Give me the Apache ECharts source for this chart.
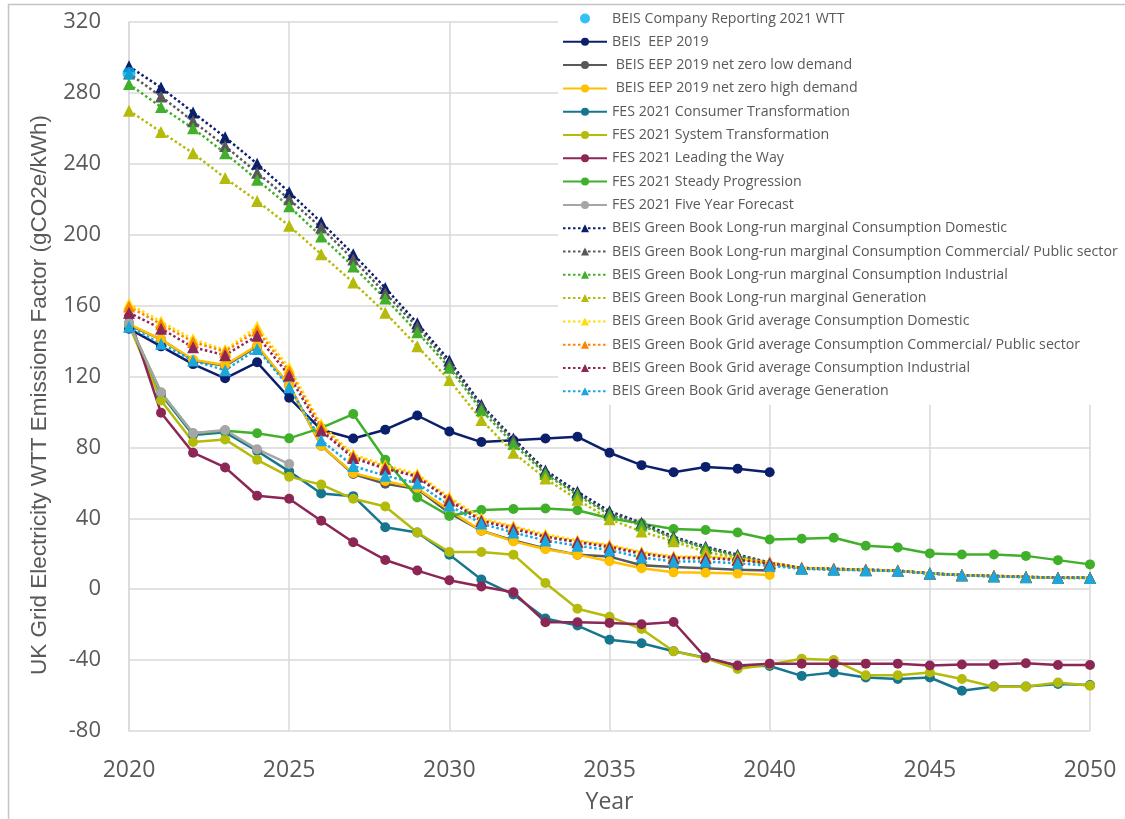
<!DOCTYPE html>
<html>
<head>
<meta charset="utf-8">
<script src="https://cdn.jsdelivr.net/npm/echarts@6/dist/echarts.min.js"></script>
<style>
  html, body { margin: 0; padding: 0; background: #fff; }
  #chart { width: 1125px; height: 819px; }
</style>
</head>
<body>
<div id="chart"></div>
<script>
// Years on the horizontal axis
const years = [2020, 2021, 2022, 2023, 2024, 2025, 2026, 2027, 2028, 2029, 2030,
               2031, 2032, 2033, 2034, 2035, 2036, 2037, 2038, 2039, 2040,
               2041, 2042, 2043, 2044, 2045, 2046, 2047, 2048, 2049, 2050];

// gCO2e/kWh by year, starting at 2020
const companyReporting2021 = [291];
const eep2019 = [147, 137, 127, 119, 128, 108, 90, 85, 90, 98, 89, 83, 84, 85, 86, 77, 70, 66, 69, 68, 66];
const eepNetZeroLow = [149, 141, 129, 126, 137, 115, 81, 65, 59.5, 56.5, 43, 33, 27.5, 23, 19.5, 18.4, 13.5, 12.5, 11.8, 11, 10.5];
const eepNetZeroHigh = [149.5, 141, 129.5, 126.5, 137.5, 115, 81, 65.5, 61, 57, 44.5, 33, 27, 22.5, 19.5, 15.8, 11.8, 9.5, 9.3, 8.8, 8];
const fesConsumer = [150, 110, 87, 88.5, 78, 66.5, 54, 52.5, 35, 32, 19.5, 5.5, -3, -16.5, -20.5, -28.5, -30.5, -35, -38.6, -43.3, -43.3,
                     -48.9, -47, -49.8, -50.7, -49.8, -57.3, -54.9, -54.9, -53.5, -54.1];
const fesSystem = [149, 106.5, 83, 84.5, 73, 63.5, 59, 51, 46.7, 32, 21, 21, 19.5, 3.5, -11, -15.5, -22.5, -35, -39, -45, -42.5,
                   -39.2, -40, -48.5, -48.5, -47, -50.7, -55, -55, -52.6, -54.5];
const fesLeading = [154, 99.5, 77, 68.7, 52.7, 51, 38.6, 26.5, 16.5, 10.5, 5, 1.5, -1.7, -18.6, -18.6, -19, -19.8, -18.5, -38.6, -43, -42,
                    -42, -42, -42, -42, -43, -42.5, -42.5, -41.8, -42.8, -42.8];
const fesSteady = [150, 111, 88, 89.4, 88, 85.1, 91, 98.8, 73, 51.8, 41.3, 44.7, 45.2, 45.5, 44.5, 40, 37, 34, 33.4, 32, 28,
                   28.5, 29, 24.5, 23.5, 20.2, 19.6, 19.6, 18.8, 16.4, 14];
const fesFiveYear = [150, 111, 88, 89.8, 79, 70.6];
const lrmDomestic = [295, 283, 269, 255, 240, 224, 207, 189, 170, 150, 129, 104, 85, 67, 55, 44, 37.5, 29.5, 24, 19.5, 15,
                     12, 11.5, 11, 10.5, 9, 8, 7.5, 7, 6.5, 6.5];
const lrmCommercial = [291, 278, 264, 250, 235, 220, 204, 186, 167, 148, 127, 103, 84, 66, 54, 43, 37, 29, 23.5, 19, 15,
                       12, 11.5, 11, 10.5, 9, 8, 7.5, 7, 6.5, 6.5];
const lrmIndustrial = [285, 272, 260, 246, 231, 216, 199, 182, 164, 145, 125, 101, 82, 65, 53, 42, 36, 28.5, 23, 18.5, 14.5,
                       11.8, 11.3, 10.9, 10.4, 8.9, 7.9, 7.4, 6.9, 6.4, 6.4];
const lrmGeneration = [270, 258, 246, 232, 219, 205, 189, 173, 156, 137, 118, 95.5, 77, 62.5, 50.5, 39.5, 32.5, 27, 21, 17.5, 14,
                       11.6, 11.1, 10.8, 10.3, 8.8, 7.8, 7.3, 6.8, 6.3, 6.3];
const gaDomestic = [161, 151, 141, 135, 148, 125, 93, 76, 70, 65, 52, 40, 35.5, 31, 27.5, 25, 21, 18.5, 18.5, 17.5, 15,
                    12, 11.5, 11, 10.5, 9, 8, 7.5, 7, 6.5, 6.5];
const gaCommercial = [159.5, 149.5, 139.5, 134, 146, 123, 91.5, 75, 69, 64, 51, 39, 35, 30, 27, 24.5, 20.5, 18, 18, 17, 14.8,
                      11.9, 11.4, 10.9, 10.4, 8.9, 7.9, 7.4, 6.9, 6.4, 6.4];
const gaIndustrial = [156, 147, 136.5, 132, 143, 120.5, 89.5, 74, 68, 63.5, 50, 38.5, 34, 29.5, 26.5, 23.7, 20, 17.5, 17.5, 16.5, 14.5,
                      11.8, 11.3, 10.8, 10.3, 8.9, 7.9, 7.3, 6.9, 6.4, 6.4];
const gaGeneration = [148, 138.5, 129, 123.5, 135.5, 114, 84, 69.5, 64, 59.8, 47.2, 37, 32, 27.5, 24.5, 22, 18, 15.6, 15.6, 14.6, 13.3,
                      11.5, 11, 10.6, 10.2, 8.8, 7.8, 7.2, 6.8, 6.3, 6.3];

// Axis ticks
const yTicks = { min: -80, max: 320, step: 40 };
const xTicks = { min: 2020, max: 2050, step: 5 };

const pair = vals => vals.map((v, i) => [years[i], v]);

const TEXT = '#595959';
const GRID = '#d9d9d9';

function solid(name, vals, color) {
  return {
    type: 'line', name, data: pair(vals),
    symbol: 'circle', symbolSize: 10,
    lineStyle: { color, width: 2.5 },
    itemStyle: { color },
    emphasis: { disabled: true }
  };
}
function dotted(name, vals, color) {
  return {
    type: 'line', name, data: pair(vals),
    symbol: 'triangle', symbolSize: 12,
    lineStyle: { color, width: 2.5, type: [2.5, 2.5] },
    itemStyle: { color },
    emphasis: { disabled: true }
  };
}

const series = [
  {
    type: 'scatter', name: 'BEIS Company Reporting 2021 WTT',
    data: pair(companyReporting2021), symbol: 'circle', symbolSize: 13,
    itemStyle: { color: '#00b0f0' }, z: 5
  },
  solid('BEIS  EEP 2019', eep2019, '#0b1f6b'),
  solid(' BEIS EEP 2019 net zero low demand', eepNetZeroLow, '#595959'),
  solid(' BEIS EEP 2019 net zero high demand', eepNetZeroHigh, '#ffc000'),
  solid('FES 2021 Consumer Transformation', fesConsumer, '#17768f'),
  solid('FES 2021 System Transformation', fesSystem, '#b4bb0a'),
  solid('FES 2021 Leading the Way', fesLeading, '#8c2655'),
  solid('FES 2021 Steady Progression', fesSteady, '#40b02b'),
  solid('FES 2021 Five Year Forecast', fesFiveYear, '#a6a6a6'),
  dotted('BEIS Green Book Long-run marginal Consumption Domestic', lrmDomestic, '#0b1f6b'),
  dotted('BEIS Green Book Long-run marginal Consumption Commercial/ Public sector', lrmCommercial, '#595959'),
  dotted('BEIS Green Book Long-run marginal Consumption Industrial', lrmIndustrial, '#40b02b'),
  dotted('BEIS Green Book Long-run marginal Generation', lrmGeneration, '#b4bb0a'),
  dotted('BEIS Green Book Grid average Consumption Domestic', gaDomestic, '#ffde00'),
  dotted('BEIS Green Book Grid average Consumption Commercial/ Public sector', gaCommercial, '#ff8200'),
  dotted('BEIS Green Book Grid average Consumption Industrial', gaIndustrial, '#8c2655'),
  dotted('BEIS Green Book Grid average Generation', gaGeneration, '#1aa7de')
];

const chart = echarts.init(document.getElementById('chart'), null, { renderer: 'canvas' });
chart.setOption({
  animation: false,
  backgroundColor: '#fff',
  textStyle: { fontFamily: 'Open Sans' },
  graphic: [
    {
      type: 'rect', shape: { x: 8.5, y: 4.5, width: 1140, height: 830 },
      style: { fill: 'none', stroke: '#c4c4c4', lineWidth: 1.5 }, z: -10, silent: true
    },
    {
      // vertical axis title
      type: 'text', x: 40, y: 395, rotation: Math.PI / 2, silent: true,
      style: {
        text: 'UK Grid Electricity WTT Emissions Factor (gCO2e/kWh)',
        fill: TEXT, fontSize: 22.5, fontFamily: 'Liberation Sans',
        align: 'center', verticalAlign: 'middle'
      }
    }
  ],
  grid: { left: 129, right: 35, top: 22, bottom: 85 },
  xAxis: {
    type: 'value', min: xTicks.min, max: xTicks.max, interval: xTicks.step,
    name: 'Year', nameLocation: 'middle', nameGap: 60,
    nameTextStyle: { fontSize: 23, color: TEXT, fontFamily: 'Open Sans' },
    axisLine: { show: false }, axisTick: { show: false },
    axisLabel: { fontSize: 23, color: TEXT, margin: 28, fontFamily: 'Open Sans', formatter: v => String(v) },
    splitLine: { show: true, lineStyle: { color: GRID, width: 1.5 } }
  },
  yAxis: {
    type: 'value', min: yTicks.min, max: yTicks.max, interval: yTicks.step,
    axisLine: { show: true, lineStyle: { color: GRID, width: 1.5 } }, axisTick: { show: false },
    axisLabel: { fontSize: 22, color: TEXT, margin: 28, fontFamily: 'Open Sans' },
    splitLine: { show: true, lineStyle: { color: GRID, width: 1.5 } }
  },
  legend: {
    orient: 'vertical', left: 558, top: 7,
    itemWidth: 44, itemHeight: 10, itemGap: 8.3,
    backgroundColor: '#fff', padding: [4, 40, 6, 4],
    textStyle: { fontSize: 14.2, color: TEXT, fontFamily: 'Open Sans', lineHeight: 15 },
    data: series.map(s => s.name)
  },
  series
});
</script>
</body>
</html>
